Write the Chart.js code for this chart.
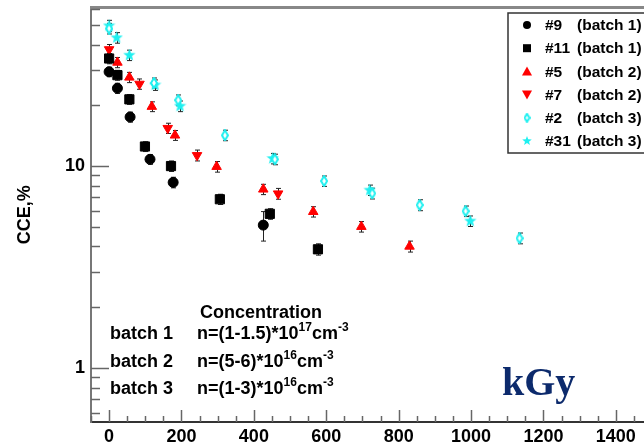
<!DOCTYPE html>
<html>
<head>
<meta charset="utf-8">
<script src="https://cdn.jsdelivr.net/npm/chart.js"></script>
<style>
  html, body { margin: 0; padding: 0; background: #fff; overflow: hidden; }
  #wrap { width: 660px; height: 442px; }
</style>
</head>
<body>
<div id="wrap"><canvas id="cce" width="660" height="442"></canvas></div>
<script>
// dose in kGy, CCE in %
const dose9 = [0, 23, 58, 113, 177, 426];
const cce9 = [29.3, 24.3, 17.5, 10.8, 8.3, 5.1];
const err9 = [1.6, 1.4, 1.0, 0.6, 0.5, 0.85];

const dose11 = [0, 23, 56, 99, 171, 306, 444, 577];
const cce11 = [34.1, 28.2, 21.4, 12.5, 10.0, 6.85, 5.8, 3.87];
const err11 = [2.0, 1.6, 1.2, 0.7, 0.6, 0.4, 0.35, 0.25];

const dose5 = [23, 56, 118, 182, 297, 426, 564, 697, 830];
const cce5 = [32.6, 27.5, 19.7, 14.2, 9.93, 7.67, 5.94, 5.01, 4.0];
const err5 = [1.9, 1.6, 1.1, 0.8, 0.6, 0.45, 0.35, 0.3, 0.25];

const dose7 = [0, 84, 162, 243, 467];
const cce7 = [37.8, 25.5, 15.4, 11.3, 7.3];
const err7 = [2.2, 1.5, 0.9, 0.7, 0.45];

const dose2 = [0, 124, 191, 320, 458, 594, 727, 858, 985, 1134];
const cce2 = [48.0, 25.8, 21.2, 14.2, 10.8, 8.43, 7.32, 6.41, 5.98, 4.39];
const err2 = [2.9, 1.5, 1.3, 0.85, 0.65, 0.5, 0.45, 0.4, 0.36, 0.27];

const dose31 = [0, 21, 56, 127, 196, 452, 720, 998];
const cce31 = [49.5, 43.2, 35.4, 25.2, 19.8, 10.9, 7.6, 5.34];
const err31 = [3.2, 2.6, 2.1, 1.5, 1.2, 0.65, 0.45, 0.32];

const seriesNames = ['#9', '#11', '#5', '#7', '#2', '#31'];
const seriesBatch = ['(batch 1)', '(batch 1)', '(batch 2)', '(batch 2)', '(batch 3)', '(batch 3)'];

const xTicks = [];
for (let v = -50; v <= 1500; v += 50) xTicks.push(v);
const yTicks = [0.6, 0.7, 0.8, 0.9, 1, 2, 3, 4, 5, 6, 7, 8, 9, 10, 20, 30, 40, 50, 60];
const yLabels = [1, 10];

function pts(xs, ys, es) {
  return xs.map((x, i) => ({x: x, y: ys[i], err: es[i]}));
}

// marker images for the star and the open diamond
function starImage(size, color) {
  const c = document.createElement('canvas');
  c.width = size; c.height = size;
  const g = c.getContext('2d');
  const R = size / 2, r = R * 0.42;
  g.beginPath();
  for (let i = 0; i < 10; i++) {
    const a = -Math.PI / 2 + i * Math.PI / 5;
    const rr = i % 2 ? r : R;
    g.lineTo(R + rr * Math.cos(a), R + rr * Math.sin(a));
  }
  g.closePath();
  g.fillStyle = color;
  g.fill();
  return c;
}
function diamondImage(w, h, color) {
  const c = document.createElement('canvas');
  c.width = w; c.height = h;
  const g = c.getContext('2d');
  g.beginPath();
  g.moveTo(w / 2, 1); g.lineTo(w - 1, h / 2); g.lineTo(w / 2, h - 1); g.lineTo(1, h / 2);
  g.closePath();
  g.fillStyle = '#fff'; g.fill();
  g.strokeStyle = color; g.lineWidth = 2; g.stroke();
  return c;
}

const cyan = '#1ef0f0';
const starBig = starImage(13, cyan);
const diamondBig = diamondImage(8, 12, cyan);
const starSmall = starImage(10, cyan);
const diamondSmall = diamondImage(7, 10, cyan);

const datasets = [
  {label: '#9', data: pts(dose9, cce9, err9), pointStyle: 'circle', pointRadius: 5, backgroundColor: '#000', borderColor: '#000'},
  {label: '#11', data: pts(dose11, cce11, err11), pointStyle: 'rect', pointRadius: 6.5, backgroundColor: '#000', borderColor: '#000'},
  {label: '#5', data: pts(dose5, cce5, err5), pointStyle: 'triangle', pointRadius: 5.5, backgroundColor: '#f00', borderColor: '#f00'},
  {label: '#7', data: pts(dose7, cce7, err7), pointStyle: 'triangle', rotation: 180, pointRadius: 5.5, backgroundColor: '#f00', borderColor: '#f00'},
  {label: '#2', data: pts(dose2, cce2, err2), pointStyle: diamondBig, pointRadius: 6, backgroundColor: cyan, borderColor: cyan},
  {label: '#31', data: pts(dose31, cce31, err31), pointStyle: starBig, pointRadius: 6, backgroundColor: cyan, borderColor: cyan}
];
datasets.forEach(d => { d.borderWidth = 1; d.showLine = false; d.pointHoverRadius = d.pointRadius; });

const errorBars = {
  id: 'errorBars',
  beforeDatasetsDraw(chart) {
    const ctx = chart.ctx, xs = chart.scales.x, ys = chart.scales.y;
    ctx.save();
    ctx.strokeStyle = '#222';
    ctx.lineWidth = 1;
    chart.data.datasets.forEach(ds => {
      ds.data.forEach(p => {
        const px = Math.round(xs.getPixelForValue(p.x)) + 0.5;
        const top = ys.getPixelForValue(p.y + p.err);
        const bot = ys.getPixelForValue(p.y - p.err);
        ctx.beginPath();
        ctx.moveTo(px, top); ctx.lineTo(px, bot);
        ctx.moveTo(px - 2.5, top); ctx.lineTo(px + 2.5, top);
        ctx.moveTo(px - 2.5, bot); ctx.lineTo(px + 2.5, bot);
        ctx.stroke();
      });
    });
    ctx.restore();
  }
};

function drawMarker(ctx, i, x, y) {
  ctx.save();
  ctx.beginPath();
  if (i === 0) {
    ctx.fillStyle = '#000'; ctx.arc(x, y, 4, 0, Math.PI * 2); ctx.fill();
  } else if (i === 1) {
    ctx.fillStyle = '#000'; ctx.fillRect(x - 4, y - 4, 8, 8);
  } else if (i === 2) {
    ctx.fillStyle = '#f00'; ctx.moveTo(x, y - 5); ctx.lineTo(x + 5, y + 4); ctx.lineTo(x - 5, y + 4); ctx.closePath(); ctx.fill();
  } else if (i === 3) {
    ctx.fillStyle = '#f00'; ctx.moveTo(x, y + 5); ctx.lineTo(x + 5, y - 4); ctx.lineTo(x - 5, y - 4); ctx.closePath(); ctx.fill();
  } else if (i === 4) {
    ctx.drawImage(diamondSmall, x - 3.5, y - 5);
  } else {
    ctx.drawImage(starSmall, x - 5, y - 5);
  }
  ctx.restore();
}

function richText(ctx, x, y, parts) {
  parts.forEach(p => {
    ctx.font = 'bold ' + (p.sup ? 12 : 18) + 'px "Liberation Sans", Arial, sans-serif';
    ctx.fillText(p.t, x, p.sup ? y - 8 : y);
    x += ctx.measureText(p.t).width;
  });
}

const decorations = {
  id: 'decorations',
  afterDraw(chart) {
    const ctx = chart.ctx, a = chart.chartArea;
    const xs = chart.scales.x, ys = chart.scales.y;
    ctx.save();
    // top frame line
    ctx.strokeStyle = '#888';
    ctx.lineWidth = 3;
    ctx.beginPath(); ctx.moveTo(a.left - 1, a.top); ctx.lineTo(a.right, a.top); ctx.stroke();

    // inward ticks
    ctx.strokeStyle = '#666';
    ctx.lineWidth = 1.5;
    yTicks.forEach(v => {
      const py = Math.round(ys.getPixelForValue(v)) + 0.5;
      const len = yLabels.includes(v) ? 18 : 9;
      ctx.beginPath(); ctx.moveTo(a.left, py); ctx.lineTo(a.left + len, py); ctx.stroke();
    });
    xTicks.forEach(v => {
      const px = Math.round(xs.getPixelForValue(v)) + 0.5;
      const len = v % 200 === 0 ? 12 : 6;
      ctx.beginPath(); ctx.moveTo(px, a.bottom); ctx.lineTo(px, a.bottom - len); ctx.stroke();
    });

    // legend
    const lx = 508, ly = 13, lw = 160, lh = 140;
    ctx.fillStyle = '#fff';
    ctx.fillRect(lx, ly, lw, lh);
    ctx.strokeStyle = '#333';
    ctx.lineWidth = 1.5;
    ctx.strokeRect(lx, ly, lw, lh);
    ctx.fillStyle = '#000';
    ctx.textBaseline = 'middle';
    ctx.font = 'bold 15.5px "Liberation Sans", Arial, sans-serif';
    seriesNames.forEach((n, i) => {
      const yy = ly + 12 + i * 23.2;
      drawMarker(ctx, i, 527, yy);
      ctx.fillStyle = '#000';
      ctx.fillText(n, 545, yy + 1);
      ctx.fillText(seriesBatch[i], 577, yy + 1);
    });

    // concentration note
    ctx.textBaseline = 'alphabetic';
    ctx.fillStyle = '#000';
    ctx.font = 'bold 18px "Liberation Sans", Arial, sans-serif';
    ctx.fillText('Concentration', 200, 318);
    ctx.fillText('batch 1', 110, 339);
    ctx.fillText('batch 2', 110, 367);
    ctx.fillText('batch 3', 110, 394);
    richText(ctx, 197, 339, [{t: 'n=(1-1.5)*10'}, {t: '17', sup: true}, {t: 'cm'}, {t: '-3', sup: true}]);
    richText(ctx, 197, 367, [{t: 'n=(5-6)*10'}, {t: '16', sup: true}, {t: 'cm'}, {t: '-3', sup: true}]);
    richText(ctx, 197, 394, [{t: 'n=(1-3)*10'}, {t: '16', sup: true}, {t: 'cm'}, {t: '-3', sup: true}]);

    // unit label
    ctx.fillStyle = '#0c2a6c';
    ctx.font = 'bold 40px "Liberation Serif", "Times New Roman", serif';
    ctx.fillText('kGy', 502, 395);
    ctx.restore();
  }
};

new Chart(document.getElementById('cce'), {
  type: 'scatter',
  data: {datasets: datasets},
  options: {
    responsive: false,
    animation: false,
    layout: {padding: {top: 7, right: 8, left: 0, bottom: 0}},
    plugins: {legend: {display: false}, tooltip: {enabled: false}},
    scales: {
      x: {
        type: 'linear',
        min: -50,
        max: 1500,
        grid: {display: false, drawTicks: false},
        border: {display: true, color: '#333', width: 2},
        afterBuildTicks: s => { s.ticks = xTicks.map(v => ({value: v})); },
        afterFit: s => { s.height = 20; s.paddingLeft = 0; s.paddingRight = 0; },
        ticks: {
          padding: 4,
          maxRotation: 0,
          autoSkip: false,
          color: '#000',
          font: {family: '"Liberation Sans", Arial, sans-serif', size: 18, weight: 'bold'},
          callback: v => (v >= 0 && v % 200 === 0 ? String(v) : '')
        }
      },
      y: {
        type: 'logarithmic',
        min: 0.54,
        max: 61,
        grid: {display: false, drawTicks: false},
        border: {display: true, color: '#777', width: 2},
        afterBuildTicks: s => { s.ticks = yTicks.map(v => ({value: v})); },
        afterFit: s => { s.width = 91; s.paddingTop = 0; s.paddingBottom = 0; },
        title: {
          display: true,
          text: 'CCE,%',
          color: '#000',
          padding: {top: 14, bottom: 0},
          font: {family: '"Liberation Sans", Arial, sans-serif', size: 18, weight: 'bold'}
        },
        ticks: {
          padding: 6,
          autoSkip: false,
          color: '#000',
          font: {family: '"Liberation Sans", Arial, sans-serif', size: 18, weight: 'bold'},
          callback: v => (yLabels.includes(v) ? String(v) : '')
        }
      }
    }
  },
  plugins: [errorBars, decorations]
});
</script>
</body>
</html>
